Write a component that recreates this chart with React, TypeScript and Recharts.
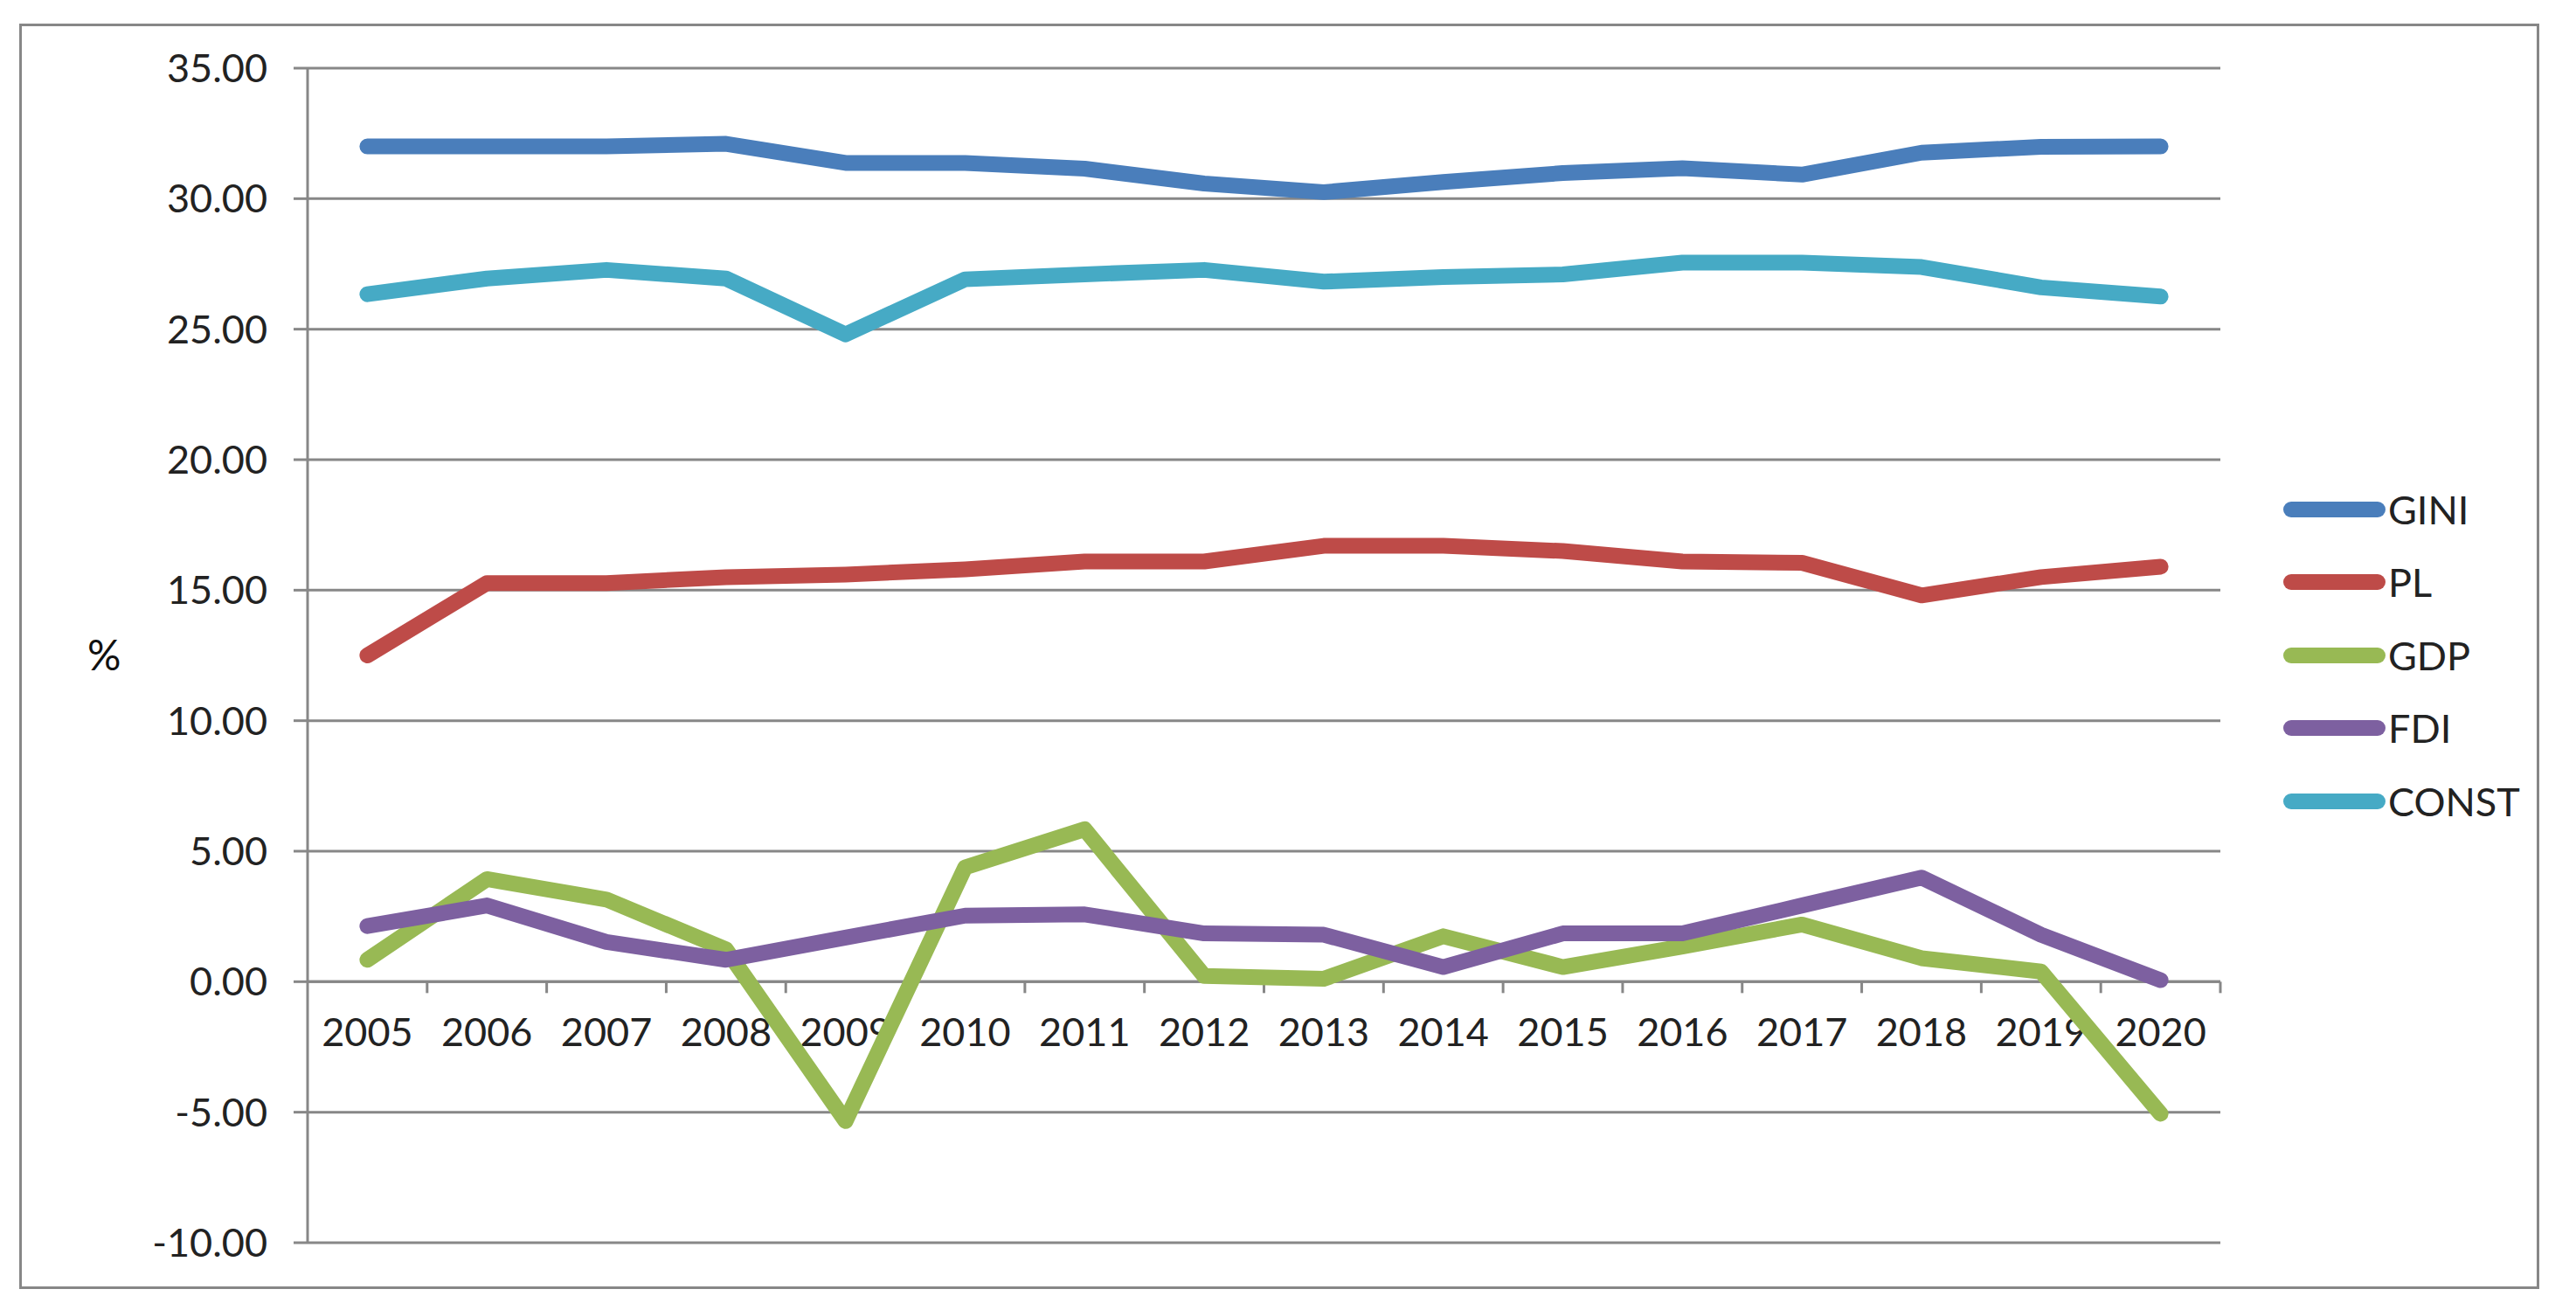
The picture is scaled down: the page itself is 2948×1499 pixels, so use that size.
import React from 'react';
import { LineChart, Line, XAxis, YAxis, CartesianGrid, Legend, ReferenceLine } from 'recharts';

const years = ['2005', '2006', '2007', '2008', '2009', '2010', '2011', '2012', '2013', '2014', '2015', '2016', '2017', '2018', '2019', '2020'];
const gini = [32.0, 32.0, 32.0, 32.1, 31.37, 31.37, 31.15, 30.58, 30.25, 30.64, 30.98, 31.17, 30.92, 31.76, 31.99, 32.0];
const pl = [12.5, 15.27, 15.27, 15.5, 15.6, 15.8, 16.1, 16.1, 16.7, 16.7, 16.5, 16.1, 16.05, 14.8, 15.5, 15.9];
const gdp = [0.84, 3.93, 3.15, 1.24, -5.34, 4.38, 5.84, 0.22, 0.11, 1.74, 0.56, 1.35, 2.19, 0.9, 0.39, -5.06];
const fdi = [2.13, 2.92, 1.52, 0.84, 1.69, 2.53, 2.58, 1.85, 1.8, 0.56, 1.85, 1.85, 2.92, 3.99, 1.8, 0.06];
const constant = [26.34, 26.94, 27.27, 26.94, 24.8, 26.91, 27.1, 27.27, 26.82, 27.0, 27.1, 27.55, 27.55, 27.38, 26.6, 26.25];
const yTicks = [-10, -5, 0, 5, 10, 15, 20, 25, 30, 35];

const series = [
  { key: 'GINI', color: '#4a7ebb' },
  { key: 'PL', color: '#be4b48' },
  { key: 'GDP', color: '#98b954' },
  { key: 'FDI', color: '#7d60a0' },
  { key: 'CONST', color: '#46aac5' },
];
const seriesOrder = series.map((s) => s.key);

const data = years.map((year, i) => ({
  year,
  GINI: gini[i],
  PL: pl[i],
  GDP: gdp[i],
  FDI: fdi[i],
  CONST: constant[i],
}));

const FONT = 'Lato, "Open Sans", sans-serif';
const FS = 45;
const GRAY = '#878787';
const LINE_W = 18;

// category labels sit on the 0.00 line, excel style, with ticks between years
function YearAxis(props: any) {
  const { viewBox } = props;
  if (!viewBox) return null;
  const { x, y, width } = viewBox;
  const band = width / years.length;
  return (
    <g>
      {years.map((yr, i) => (
        <g key={yr}>
          <line x1={x + (i + 1) * band} y1={y} x2={x + (i + 1) * band} y2={y + 13} stroke={GRAY} strokeWidth={3} />
          <text x={x + (i + 0.5) * band} y={y + 74} textAnchor="middle" fontSize={FS} fontFamily={FONT} fill="#222">
            {yr}
          </text>
        </g>
      ))}
    </g>
  );
}

function LegendBox(props: any) {
  const items = [...(props.payload || [])].sort(
    (a: any, b: any) => seriesOrder.indexOf(a.value) - seriesOrder.indexOf(b.value)
  );
  return (
    <div style={{ fontFamily: FONT, fontSize: FS, color: '#222' }}>
      {items.map((entry: any) => (
        <div key={entry.value} style={{ display: 'flex', alignItems: 'center', height: 83.5 }}>
          <svg width={129} height={24}>
            <line x1={18} y1={12} x2={117} y2={12} stroke={entry.color} strokeWidth={LINE_W} strokeLinecap="round" />
          </svg>
          <span>{entry.value}</span>
        </div>
      ))}
    </div>
  );
}

export default function App() {
  return (
    <div style={{ position: 'absolute', left: 0, top: 0, width: 2948, height: 1499, background: '#fff' }}>
      <div
        style={{
          position: 'absolute',
          left: 22,
          top: 27,
          width: 2884,
          height: 1448,
          border: `3px solid ${GRAY}`,
          boxSizing: 'border-box',
        }}
      />
      <div style={{ position: 'absolute', left: 0, top: 0 }}>
        <LineChart width={2948} height={1499} data={data} margin={{ top: 78, right: 407, bottom: 77, left: 0 }}>
          <CartesianGrid horizontal vertical={false} stroke={GRAY} strokeWidth={3} />
          <XAxis dataKey="year" scale="band" hide />
          <YAxis
            width={352}
            domain={[-10, 35]}
            ticks={yTicks}
            interval={0}
            tickFormatter={(v: number) => v.toFixed(2)}
            tick={{ fontSize: FS, fontFamily: FONT, fill: '#222' }}
            tickSize={16}
            tickMargin={30}
            tickLine={{ stroke: GRAY, strokeWidth: 3 }}
            axisLine={{ stroke: GRAY, strokeWidth: 3 }}
            label={{ value: '%', position: 'insideLeft', offset: 100, fontSize: 48, fontFamily: FONT, fill: '#111' }}
          />
          <ReferenceLine y={0} stroke={GRAY} strokeWidth={3} label={<YearAxis />} />
          <Legend
            layout="vertical"
            align="center"
            verticalAlign="middle"
            content={<LegendBox />}
            wrapperStyle={{ position: 'absolute', left: 2604, top: 541, width: 300 }}
          />
          {series.map((s) => (
            <Line
              key={s.key}
              type="linear"
              dataKey={s.key}
              stroke={s.color}
              strokeWidth={LINE_W}
              strokeLinecap="round"
              strokeLinejoin="round"
              dot={false}
              activeDot={false}
              isAnimationActive={false}
            />
          ))}
        </LineChart>
      </div>
    </div>
  );
}
